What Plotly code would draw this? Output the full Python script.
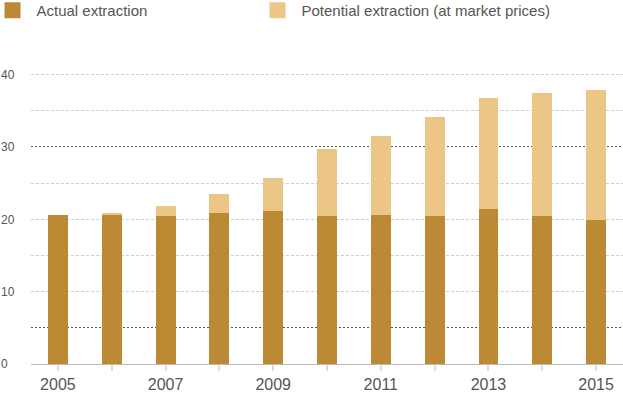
import plotly.graph_objects as go

years = [2005, 2006, 2007, 2008, 2009, 2010, 2011, 2012, 2013, 2014, 2015]
year_labels = ["2005", "", "2007", "", "2009", "", "2011", "", "2013", "", "2015"]
actual = [20.6, 20.7, 20.5, 20.9, 21.2, 20.4, 20.6, 20.4, 21.4, 20.4, 19.9]
potential_extra = [0.0, 0.1, 1.4, 2.6, 4.5, 9.3, 10.9, 13.7, 15.4, 17.1, 18.0]
y_ticks = [0, 10, 20, 30, 40]
light_grid = [10, 15, 20, 25, 35, 40]
dark_grid = [5, 30]

names = ["Actual extraction", "Potential extraction (at market prices)"]
c_dark = "#BC8A35"
c_light = "#ECC687"
txt = "#555555"

fig = go.Figure()
fig.add_trace(go.Bar(x=years, y=actual, marker=dict(color=c_dark, line=dict(width=0)),
                     showlegend=False, name=names[0]))
fig.add_trace(go.Bar(x=years, y=potential_extra, marker=dict(color=c_light, line=dict(width=0)),
                     showlegend=False, name=names[1]))
# legend entries (one legend per entry)
for nm, c, lg in zip(names, [c_dark, c_light], ["legend", "legend2"]):
    fig.add_trace(go.Scatter(x=[None], y=[None], mode="markers", name=nm, legend=lg,
                             marker=dict(symbol="square", size=16, color=c)))
# grid overlays
fig.add_trace(go.Scatter(x=[None], y=[None], yaxis="y2", showlegend=False, hoverinfo="skip"))
fig.add_trace(go.Scatter(x=[None], y=[None], yaxis="y3", showlegend=False, hoverinfo="skip"))

yr = [0, 40.5]
leg_common = dict(orientation="h", xref="paper", yref="paper", y=1 + 77 / 293,
                  xanchor="left", yanchor="top", itemwidth=38,
                  font=dict(size=15, color=txt),
                  bgcolor="rgba(0,0,0,0)", borderwidth=0)
fig.update_layout(
    width=623, height=394,
    margin=dict(l=0, r=0, t=71, b=30, autoexpand=False),
    paper_bgcolor="white", plot_bgcolor="white",
    barmode="stack", bargap=0.63,
    font=dict(family="Liberation Sans, Arial, sans-serif", color=txt),
    xaxis=dict(domain=[31 / 623, 1], range=[2004.5, 2015.5], tickmode="array",
               tickvals=years, ticktext=year_labels, ticks="outside", ticklen=6,
               tickwidth=2, tickcolor="#dddddd", showgrid=False, zeroline=False,
               showline=False, automargin=False, tickfont=dict(size=16, color=txt)),
    yaxis=dict(range=yr, anchor="free", position=0, side="right", tickmode="array",
               tickvals=y_ticks, ticks="", showgrid=False, zeroline=True,
               zerolinecolor="#bbbbbb", zerolinewidth=1, showline=False,
               automargin=False, tickfont=dict(size=12, color=txt)),
    yaxis2=dict(range=yr, overlaying="y", tickmode="array", tickvals=light_grid,
                showticklabels=False, showgrid=True, gridcolor="#d0d0d0", gridwidth=1,
                griddash="3px,2px", zeroline=False, ticks=""),
    yaxis3=dict(range=yr, overlaying="y", tickmode="array", tickvals=dark_grid,
                showticklabels=False, showgrid=True, gridcolor="#555555", gridwidth=1,
                griddash="2px,2px", zeroline=False, ticks=""),
    legend=dict(x=-11.5 / 623, **leg_common),
    legend2=dict(x=253.5 / 623, **leg_common),
)
fig.write_html("out.html", config={"displayModeBar": False})

with open("out.html", "r", encoding="utf-8") as f:
    html = f.read()
html = html.replace("<head>", "<head><style>html,body{margin:0;padding:0;overflow:hidden}</style>", 1)
with open("out.html", "w", encoding="utf-8") as f:
    f.write(html)
